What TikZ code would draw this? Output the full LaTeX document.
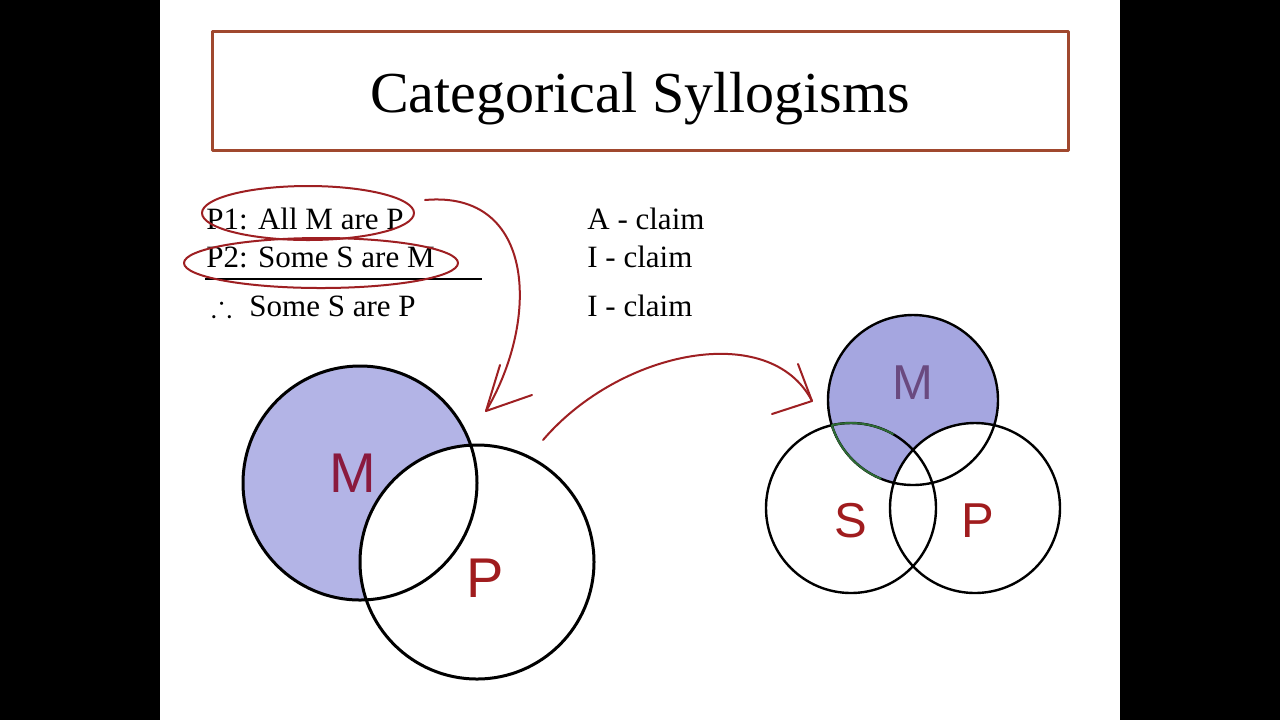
\documentclass[tikz,border=0pt]{standalone}
\usepackage{amssymb}
\usepackage{fontspec}
\setmainfont{Liberation Serif}
\setsansfont{Liberation Sans}
\usetikzlibrary{arrows.meta}

\definecolor{frame}{HTML}{A0482E}
\definecolor{pen}{HTML}{9E1F22}
\definecolor{shadeL}{HTML}{B3B4E6}
\definecolor{shadeR}{HTML}{A5A6E0}
\definecolor{termL}{HTML}{8A1A3E}
\definecolor{termM}{HTML}{6A4A80}
\definecolor{termR}{HTML}{A01C1E}
\definecolor{edge}{HTML}{2E6B35}

\begin{document}
\begin{tikzpicture}[x=0.5pt, y=-0.5pt, line join=round,
  titlebox/.style={draw=frame, line width=1.5pt, minimum width=428pt, minimum height=59.5pt, inner sep=0pt},
  textline/.style={anchor=base west, inner sep=0pt, font=\fontsize{15.5}{18}\selectfont},
  ring/.style={draw=black, line width=1.5pt},
  small ring/.style={draw=black, line width=1.2pt},
  bigterm/.style={font=\sffamily\fontsize{28}{30}\selectfont, inner sep=0pt},
  term/.style={font=\sffamily\fontsize{24.5}{26}\selectfont, inner sep=0pt},
  ink/.style={draw=pen, line width=1pt, line cap=round}]
\fill[black] (0,0) rectangle (1280,720);
\fill[white] (160,0) rectangle (1120,720);
\node[titlebox] (box) at (640,90.5) {};
\node[anchor=base, font=\fontsize{29}{32}\selectfont] (title) at (640,112) {Categorical Syllogisms};
\node[textline] (p1) at (206,229) {P1: All M are P};
\node[textline] (p2) at (206,267) {P2: Some S are M};
\node[textline] (thf) at (211,316) {$\therefore$};
\node[textline] (con) at (249,316) {Some S are P};
\node[textline] (c1) at (587,229) {A - claim};
\node[textline] (c2) at (587,267) {I - claim};
\node[textline] (c3) at (587,316) {I - claim};
\coordinate (barL) at (205,279);
\coordinate (barR) at (482,279);
\draw[line width=1.2pt] (barL) -- (barR);
\coordinate (lM) at (360,483);
\coordinate (lP) at (477,562);
\begin{scope}
  \fill[shadeL] (lM) circle[radius=117];
  \clip (lM) circle[radius=117];
  \fill[white] (lP) circle[radius=117];
\end{scope}
\draw[ring] (lM) circle[radius=117] (lP) circle[radius=117];
\node[bigterm, text=termL] (mL) at (353,473) {M};
\node[bigterm, text=termR] (pL) at (485,578) {P};
\coordinate (rM) at (913,400);
\coordinate (rS) at (851,508);
\coordinate (rP) at (975,508);
\begin{scope}
  \fill[shadeR] (rM) circle[radius=85];
  \clip (rM) circle[radius=85];
  \fill[white] (rP) circle[radius=85];
\end{scope}
\draw[small ring] (rM) circle[radius=85] (rS) circle[radius=85] (rP) circle[radius=85];
\draw[edge, line width=1pt] ([shift={(-103:85)}]rS) arc[start angle=-103, end angle=-60, radius=85];
\draw[edge, line width=1pt] ([shift={(163:85)}]rM) arc[start angle=163, end angle=112, radius=85];
\node[term, text=termM] (mR) at (913,383) {M};
\node[term, text=termR] (sR) at (851,521) {S};
\node[term, text=termR] (pR) at (978,521) {P};
\draw[ink] (308,213) ellipse[x radius=106, y radius=27];
\draw[ink] (321,263) ellipse[x radius=137, y radius=25];
\coordinate (a1s) at (425,200);
\coordinate (a1e) at (486,411);
\draw[ink] (a1s) .. controls (536,190) and (540,320) .. (a1e);
\draw[ink] (a1e) -- ++(14,-46) (a1e) -- ++(46,-16);
\coordinate (a2s) at (543,440);
\coordinate (a2e) at (812,401);
\draw[ink] (a2s) .. controls (620,350) and (770,320) .. (a2e);
\draw[ink] (a2e) -- ++(-14,-37) (a2e) -- ++(-40,13);
\end{tikzpicture}
\end{document}
